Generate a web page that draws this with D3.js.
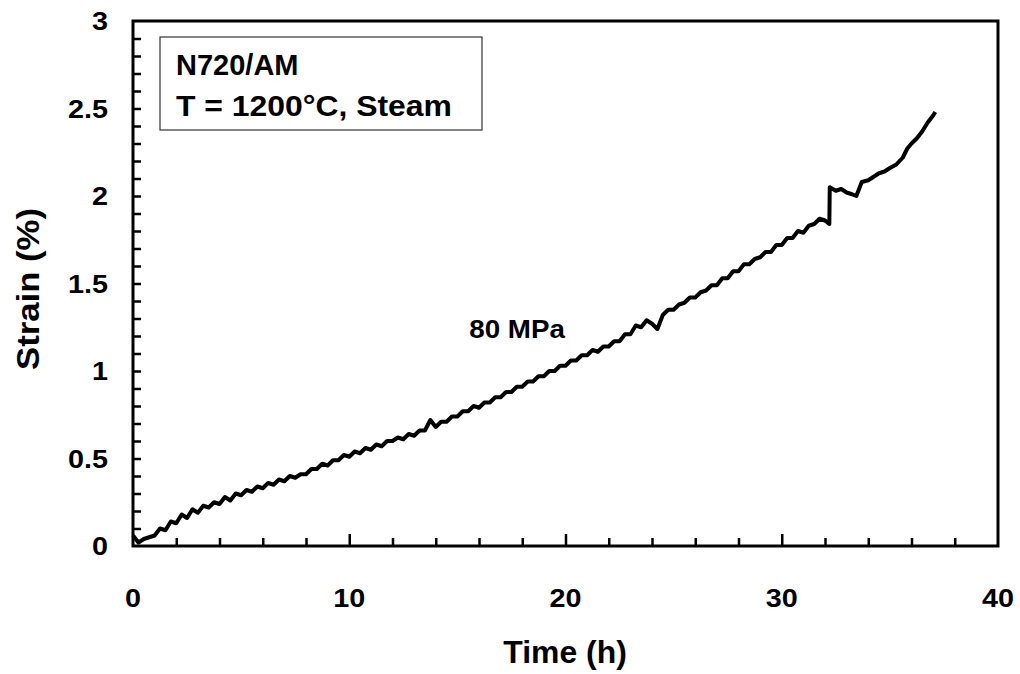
<!DOCTYPE html>
<html>
<head>
<meta charset="utf-8">
<script src="https://cdn.jsdelivr.net/npm/d3@7"></script>
<style>
  body { margin: 0; background: #fff; }
  text { font-family: "Liberation Sans", Arial, sans-serif; font-weight: bold; fill: #000; }
</style>
</head>
<body>
<div id="chart"></div>
<script>
// time (h) and strain (%)
var timeH = [0, 0.25, 0.5, 0.75, 1, 1.25, 1.5, 1.75, 2, 2.25, 2.5, 2.75, 3, 3.25, 3.5, 3.75,
  4, 4.25, 4.5, 4.75, 5, 5.25, 5.5, 5.75, 6, 6.25, 6.5, 6.75, 7, 7.25, 7.5, 7.75,
  8, 8.25, 8.5, 8.75, 9, 9.25, 9.5, 9.75, 10, 10.25, 10.5, 10.75, 11, 11.25, 11.5, 11.75,
  12, 12.25, 12.5, 12.75, 13, 13.25, 13.5, 13.75, 14, 14.25, 14.5, 14.75, 15, 15.25, 15.5, 15.75,
  16, 16.25, 16.5, 16.75, 17, 17.25, 17.5, 17.75, 18, 18.25, 18.5, 18.75, 19, 19.25, 19.5, 19.75,
  20, 20.25, 20.5, 20.75, 21, 21.25, 21.5, 21.75, 22, 22.25, 22.5, 22.75, 23, 23.25, 23.5, 23.75,
  24, 24.25, 24.5, 24.75, 25, 25.25, 25.5, 25.75, 26, 26.25, 26.5, 26.75, 27, 27.25, 27.5, 27.75,
  28, 28.25, 28.5, 28.75, 29, 29.25, 29.5, 29.75, 30, 30.25, 30.5, 30.75, 31, 31.25, 31.5, 31.75,
  32, 32.2, 32.22, 32.5, 32.75, 33, 33.25, 33.45, 33.7, 34, 34.25, 34.5, 34.75, 35, 35.3, 35.6,
  35.8, 36, 36.25, 36.5, 36.75, 37, 37.1];
var strain = [0.06, 0.02, 0.04, 0.05, 0.06, 0.10, 0.09, 0.14, 0.13, 0.18, 0.16, 0.21, 0.19, 0.23, 0.22, 0.25,
  0.24, 0.28, 0.26, 0.30, 0.29, 0.32, 0.31, 0.34, 0.33, 0.36, 0.35, 0.38, 0.37, 0.40, 0.39, 0.41,
  0.41, 0.44, 0.44, 0.47, 0.46, 0.49, 0.49, 0.52, 0.51, 0.54, 0.53, 0.56, 0.55, 0.58, 0.57, 0.60,
  0.60, 0.62, 0.61, 0.64, 0.63, 0.66, 0.66, 0.72, 0.68, 0.71, 0.71, 0.74, 0.74, 0.77, 0.77, 0.80,
  0.79, 0.82, 0.82, 0.85, 0.85, 0.88, 0.88, 0.91, 0.91, 0.94, 0.94, 0.97, 0.97, 1.00, 1.00, 1.03,
  1.03, 1.06, 1.06, 1.09, 1.09, 1.12, 1.11, 1.14, 1.14, 1.17, 1.17, 1.21, 1.21, 1.26, 1.25, 1.29,
  1.27, 1.24, 1.32, 1.35, 1.35, 1.38, 1.39, 1.42, 1.42, 1.45, 1.46, 1.49, 1.49, 1.53, 1.53, 1.57,
  1.57, 1.61, 1.61, 1.64, 1.65, 1.68, 1.68, 1.72, 1.72, 1.76, 1.76, 1.80, 1.79, 1.83, 1.84, 1.87,
  1.86, 1.84, 2.05, 2.03, 2.04, 2.02, 2.01, 2.00, 2.08, 2.09, 2.11, 2.13, 2.14, 2.16, 2.18, 2.22,
  2.27, 2.30, 2.33, 2.37, 2.42, 2.46, 2.48];

var yTickVals = [0, 0.5, 1, 1.5, 2, 2.5, 3];
var xTickVals = [0, 10, 20, 30, 40];
var boxLines = ["N720/AM", "T = 1200°C, Steam"];
var stressLabel = "80 MPa";

var width = 1020, height = 674;
var margin = {top: 21, right: 22, bottom: 128, left: 133};
var w = width - margin.left - margin.right,
    h = height - margin.top - margin.bottom;

var svg = d3.select("#chart").append("svg")
    .attr("width", width)
    .attr("height", height);
var g = svg.append("g")
    .attr("transform", "translate(" + margin.left + "," + margin.top + ")");

var x = d3.scaleLinear().domain([0, 40]).range([0, w]);
var y = d3.scaleLinear().domain([0, 3]).range([h, 0]);

// text is a little wider than the font in the original, so stretch it
function label(sel, px, py, size, sx, rot) {
    return sel.append("text")
        .attr("transform", "translate(" + px + "," + py + ")" + (rot ? " rotate(" + rot + ")" : "") +
            " scale(" + sx + ",1)")
        .style("font-size", size + "px");
}

// inward ticks: minor every 2 h / 0.1 %
g.append("g")
    .attr("transform", "translate(0," + h + ")")
    .call(d3.axisBottom(x).tickValues(d3.range(2, 40, 2)).tickSize(-8).tickFormat(""))
    .call(function (a) { a.select(".domain").remove(); })
    .selectAll("line").attr("stroke", "#000").attr("stroke-width", 2.5)
    .attr("y2", function (d) { return d % 10 === 0 ? -12 : -8; });

g.append("g")
    .call(d3.axisLeft(y).tickValues(d3.range(1, 30).map(function (d) { return d / 10; }))
        .tickSize(-8).tickFormat(""))
    .call(function (a) { a.select(".domain").remove(); })
    .selectAll("line").attr("stroke", "#000").attr("stroke-width", 2.5);

// tick labels
xTickVals.forEach(function (d) {
    label(g, x(d), h + 61, 25, 1.15).attr("text-anchor", "middle").text(d);
});
yTickVals.forEach(function (d) {
    label(g, -25, y(d) + 9, 25, 1.15).attr("text-anchor", "end").text(d);
});

// frame
g.append("rect")
    .attr("width", w).attr("height", h)
    .attr("fill", "none").attr("stroke", "#000").attr("stroke-width", 3);

// curve
var line = d3.line()
    .x(function (d) { return x(d[0]); })
    .y(function (d) { return y(d[1]); });
g.append("path")
    .datum(d3.zip(timeH, strain))
    .attr("fill", "none")
    .attr("stroke", "#000")
    .attr("stroke-width", 4)
    .attr("stroke-linejoin", "round")
    .attr("d", line);

// annotation box
g.append("rect")
    .attr("x", 27).attr("y", 16).attr("width", 322).attr("height", 93)
    .attr("fill", "#fff").attr("stroke", "#333").attr("stroke-width", 1.2);
label(g, 43, 54, 29, 1.0).text(boxLines[0]);
label(g, 43, 95, 29, 1.1).text(boxLines[1]);

label(g, x(15.55), y(1.19), 25, 1.11).text(stressLabel);

// axis titles
label(svg, 565, 663, 31, 1.03).attr("text-anchor", "middle").text("Time (h)");
label(svg, 39, 289, 31, 1.12, -90).attr("text-anchor", "middle").text("Strain (%)");
</script>
</body>
</html>
